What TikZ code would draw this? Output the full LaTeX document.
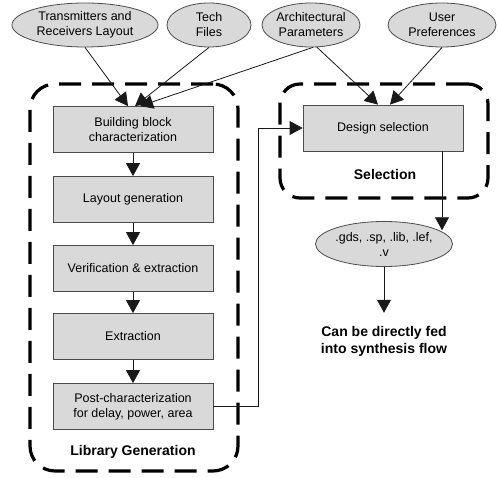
\documentclass[tikz,border=0pt]{standalone}
\usepackage{fontspec}
\setmainfont{Liberation Sans}
\usetikzlibrary{arrows.meta,shapes.geometric,calc}
\begin{document}
\begin{tikzpicture}[x=1pt,y=-1pt,
 every node/.style={font=\fontsize{12.5}{15}\selectfont},
 ell/.style={ellipse, draw=black!70, fill=black!15, line width=0.8pt, inner sep=0pt},
 lbl/.style={align=center, inner sep=0pt},
 box/.style={rectangle, draw=black!70, fill=black!15, line width=0.8pt, minimum width=160pt, minimum height=46pt, align=center, inner sep=0pt},
 region/.style={rectangle, draw=black, line width=3.2pt, dash pattern=on 22pt off 11pt, rounded corners=25pt},
 arr/.style={draw=black!90, line width=0.8pt, -{Triangle[length=13pt,width=14pt]}},
 boldlbl/.style={font=\fontsize{14}{17}\selectfont\bfseries, align=center, inner sep=0pt}
]
\useasboundingbox (0,0) rectangle (498,478);

% regions
\node[region, minimum width=208pt, minimum height=387pt] (libreg) at (134,277.5) {};
\node[region, minimum width=208pt, minimum height=114pt, rounded corners=20pt] (selreg) at (384,141) {};

% input ellipses
\node[ell, minimum width=146pt, minimum height=44pt, label={[lbl]center:Transmitters and\\Receivers Layout}] (e1) at (85,25) {};
\node[ell, minimum width=84pt, minimum height=44pt, label={[lbl]center:Tech\\Files}] (e2) at (209,25) {};
\node[ell, minimum width=98pt, minimum height=44pt, label={[lbl]center:Architectural\\Parameters}] (e3) at (311,25) {};
\node[ell, minimum width=108pt, minimum height=44pt, label={[lbl]center:User\\Preferences}] (e4) at (442,25) {};

% library boxes
\node[box] (b1) at (133,129.5) {Building block\\characterization};
\node[box] (b2) at (133,199.5) {Layout generation};
\node[box] (b3) at (133,268.5) {Verification \& extraction};
\node[box] (b4) at (133,336.5) {Extraction};
\node[box] (b5) at (133,406.5) {Post-characterization\\for delay, power, area};
\node[boldlbl] (libl) at (133,452) {Library Generation};

% selection
\node[box] (sel) at (383,128) {Design selection};
\node[boldlbl] (sell) at (385,174) {Selection};

% output
\node[ell, minimum width=137pt, minimum height=45pt, label={[lbl]center:.gds, .sp, .lib, .lef,\\.v}] (out) at (384,244) {};
\node[boldlbl] (txt) at (384,341) {Can be directly fed\\into synthesis flow};

% connectors
\draw[arr] (e1.south) -- ([xshift=-5pt]b1.north);
\draw[arr] (e2.south) -- ([xshift=2pt]b1.north);
\draw[arr] (e3.-85) -- ([xshift=7pt]b1.north);
\draw[arr] (e3.-75) -- ([xshift=-5pt]sel.north);
\draw[arr] (e4.south) -- ([xshift=7pt]sel.north);

\draw[arr] (b1) -- (b2);
\draw[arr] (b2) -- (b3);
\draw[arr] (b3) -- (b4);
\draw[arr] (b4) -- (b5);

\draw[arr] (b5.east) -- ++(45,0) |- (sel.west);
\coordinate (s1) at ([xshift=59pt]sel.south);
\draw[arr] (s1) -- (s1 |- out.14);
\draw[arr, shorten >=13pt] (out.south) -- (txt.north);
\end{tikzpicture}
\end{document}
